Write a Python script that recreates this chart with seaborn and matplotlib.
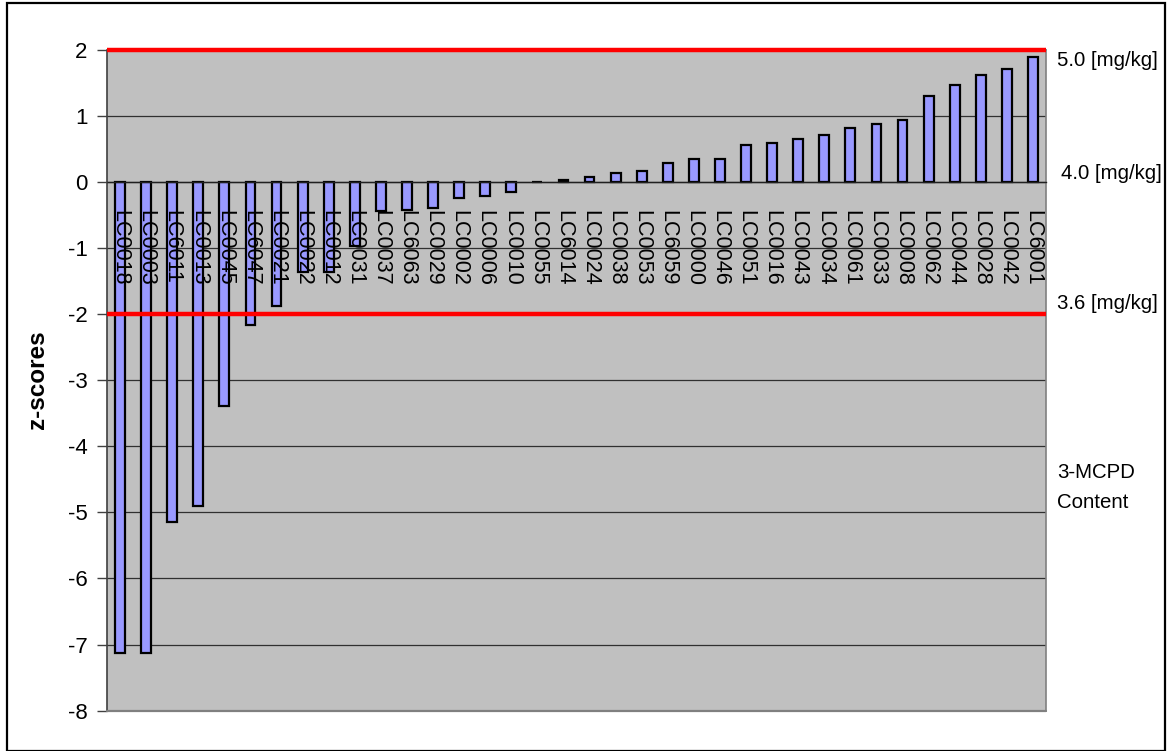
import matplotlib
matplotlib.use("Agg")
import matplotlib.pyplot as plt
import seaborn as sns
import pandas as pd
from matplotlib.patches import Rectangle
from matplotlib.ticker import MultipleLocator

labs = ["LC0018", "LC0003", "LC6011", "LC0013", "LC0045", "LC6047", "LC0021", "LC0022",
        "LC0012", "LC0031", "LC0037", "LC6063", "LC0029", "LC0002", "LC0006", "LC0010",
        "LC0055", "LC6014", "LC0024", "LC0038", "LC0053", "LC6059", "LC0000", "LC0046",
        "LC0051", "LC0016", "LC0043", "LC0034", "LC0061", "LC0033", "LC0008", "LC0062",
        "LC0044", "LC0028", "LC0042", "LC6001"]
zscores = [-7.13, -7.13, -5.14, -4.91, -3.39, -2.17, -1.88, -1.37,
           -1.36, -0.97, -0.44, -0.42, -0.39, -0.24, -0.21, -0.15,
           0.0, 0.03, 0.065, 0.125, 0.155, 0.28, 0.34, 0.34,
           0.55, 0.58, 0.64, 0.70, 0.82, 0.88, 0.94, 1.30,
           1.46, 1.61, 1.70, 1.88]
limit_z = [2, -2]
right_texts = ["5.0 [mg/kg]", "4.0 [mg/kg]", "3.6 [mg/kg]", "3-MCPD", "Content"]
right_y = [1.84, 0.13, -1.84, -4.39, -4.85]
right_x = [1.012, 1.016, 1.012, 1.012, 1.012]

sns.set_style("white")
plt.rcParams["font.family"] = ["Liberation Sans", "DejaVu Sans"]
plt.rcParams["text.color"] = "black"
plt.rcParams["xtick.color"] = "black"
plt.rcParams["ytick.color"] = "black"
plt.rcParams["axes.labelcolor"] = "black"

fig = plt.figure(figsize=(11.68, 7.51), dpi=100)
ax = fig.add_axes([107/1168, 1-710.7/751, (1046-107)/1168, (710.7-49.5)/751])
ax.set_facecolor("#C0C0C0")

df = pd.DataFrame({"lab": labs, "z": zscores})
sns.barplot(data=df, x="lab", y="z", order=labs, color="#9999FF", saturation=1,
            edgecolor="black", linewidth=1.6, width=0.38, ax=ax, zorder=1)

ax.set_ylim(-8, 2)
ax.set_xlim(-0.5, len(labs) - 0.5)
ax.yaxis.set_major_locator(MultipleLocator(1))
for yv in range(-7, 2):
    ax.axhline(yv, color="#303030", lw=0.9, zorder=0.5)
for lz in limit_z:
    ax.axhline(lz, color="#FF0000", lw=3.2, zorder=3, solid_capstyle="butt", clip_on=False)

ax.set_axisbelow(False)
for s in ["top", "right"]:
    ax.spines[s].set_color("#808080")
    ax.spines[s].set_linewidth(1.2)
ax.spines["left"].set_color("#404040")
ax.spines["left"].set_linewidth(1.2)
ax.spines["bottom"].set_position(("data", 0))
ax.spines["bottom"].set_color("#202020")
ax.spines["bottom"].set_linewidth(1.0)
ax.plot([0, 1], [0, 0], transform=ax.transAxes, color="#808080", lw=1.6, clip_on=False, zorder=4)

ax.set_xticks(range(len(labs)))
ax.set_xticklabels(labs, rotation=270, fontsize=15.5, ha="center", va="top", color="black")
ax.set_xticks([i - 0.5 for i in range(len(labs) + 1)], minor=True)
ax.tick_params(axis="x", which="major", length=0, pad=20)
ax.tick_params(axis="x", which="minor", length=6, width=1, color="#202020", direction="out")
ax.tick_params(axis="y", which="major", length=7, width=1, color="#404040", direction="out",
               labelsize=16, pad=7, left=True, labelcolor="black")
ax.set_yticklabels([str(int(v)) for v in ax.get_yticks()])

ax.set_xlabel("")
ax.set_ylabel("z-scores", fontsize=17.5, fontweight="bold", color="black")
ax.yaxis.set_label_coords(-0.062, 0.5)

for t, yy, xx in zip(right_texts, right_y, right_x):
    ax.text(xx, yy, t, transform=ax.get_yaxis_transform(), fontsize=14.7,
            ha="left", va="center", color="black", clip_on=False)

fig.patches.append(Rectangle((7/1168, 0.0), (1165-7)/1168, 1-3/751, transform=fig.transFigure,
                             fill=False, edgecolor="black", lw=1.6, zorder=10))

fig.savefig("out.png", dpi=100)
